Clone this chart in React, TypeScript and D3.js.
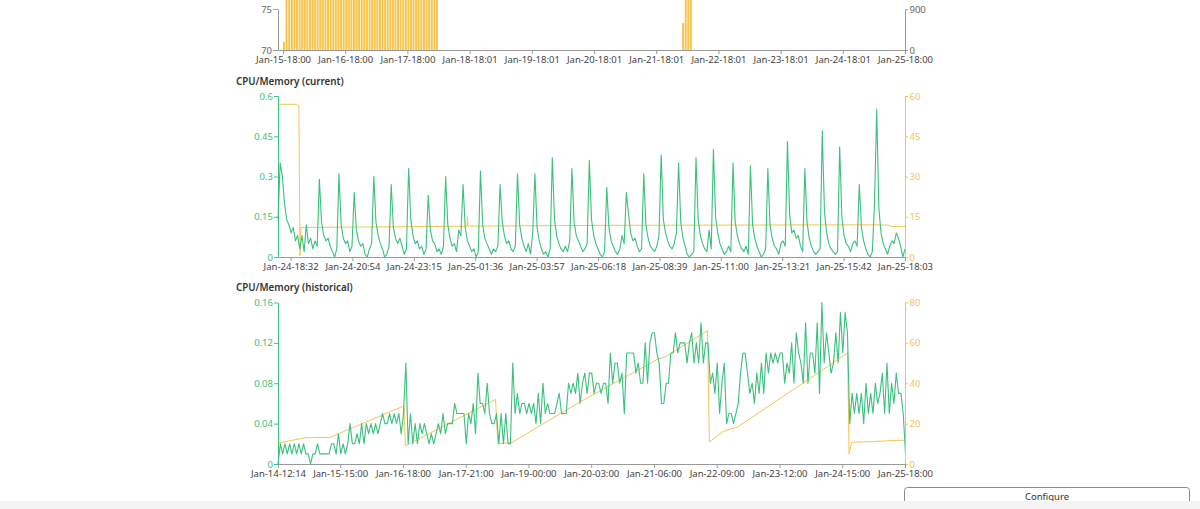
import React, { useEffect, useRef } from "react";
import * as d3 from "d3";

const FONT = "'Segoe UI', 'Noto Sans', sans-serif";
const GREEN = "#3ac17e";
const YELLOW = "#f5c451";
const BAR = "#f6c54e";
const GRAY = "#9a9a9a";
const TICK_FS = 9.5;

const parseT = d3.timeParse("%Y-%b-%d-%H:%M");
const T = (s: string) => parseT("2025-" + s) as Date;

// ---------- top chart (cut off) ----------
const topDomain = ["Jan-15-16:04", "Jan-25-18:00"];
const topTickLabels = [
  "Jan-15-18:00", "Jan-16-18:00", "Jan-17-18:00", "Jan-18-18:01", "Jan-19-18:01", "Jan-20-18:01",
  "Jan-21-18:01", "Jan-22-18:01", "Jan-23-18:01", "Jan-24-18:01", "Jan-25-18:00",
];
const topLeftTicks = [70, 75];
const topRightTicks = [0, 900];
const barGroup1Start = "Jan-15-18:00";
const barGroup1Values = [
  71, 100, 100, 100, 100, 100, 100, 100, 100, 100,
  100, 100, 100, 100, 100, 100, 100, 100, 100, 100,
  100, 100, 100, 100, 100, 100, 100, 100, 100, 100,
  100, 100, 100, 100, 100, 100, 100, 100, 100, 100,
  100, 100, 100, 100, 100, 100, 100, 100, 100, 100,
  100, 100, 100, 100, 100, 100, 100, 100, 100, 100,
];
const barGroup2Start = "Jan-22-04:00";
const barGroup2Values = [73.3, 100, 100, 100];

// ---------- CPU/Memory (current) ----------
const curDomain = ["Jan-24-18:03", "Jan-25-18:03"];
const curTickLabels = [
  "Jan-24-18:32", "Jan-24-20:54", "Jan-24-23:15", "Jan-25-01:36", "Jan-25-03:57", "Jan-25-06:18",
  "Jan-25-08:39", "Jan-25-11:00", "Jan-25-13:21", "Jan-25-15:42", "Jan-25-18:03",
];
const curLeftTicks = [0, 0.15, 0.3, 0.45, 0.6];
const curRightTicks = [0, 15, 30, 45, 60];
const curStepMinutes = 5;
const curCpu = [
  0.14, 0.35, 0.30, 0.20, 0.14, 0.12, 0.09, 0.11, 0.06, 0.08,
  0.03, 0.08, 0.02, 0.12, 0.05, 0.07, 0.03, 0.06, 0.04, 0.29,
  0.13, 0.08, 0.06, 0.07, 0.04, 0.02, 0.00, 0.03, 0.31, 0.12,
  0.07, 0.05, 0.06, 0.02, 0.04, 0.24, 0.10, 0.06, 0.04, 0.05,
  0.01, 0.00, 0.03, 0.05, 0.30, 0.13, 0.08, 0.05, 0.03, 0.00,
  0.01, 0.04, 0.27, 0.11, 0.07, 0.05, 0.07, 0.04, 0.01, 0.03,
  0.33, 0.14, 0.08, 0.05, 0.06, 0.03, 0.04, 0.01, 0.03, 0.23,
  0.10, 0.06, 0.05, 0.02, 0.03, 0.01, 0.04, 0.30, 0.12, 0.07,
  0.04, 0.05, 0.02, 0.10, 0.08, 0.27, 0.11, 0.06, 0.04, 0.02,
  0.03, 0.00, 0.02, 0.32, 0.12, 0.07, 0.05, 0.03, 0.01, 0.03,
  0.02, 0.04, 0.27, 0.13, 0.08, 0.05, 0.06, 0.03, 0.02, 0.04,
  0.31, 0.12, 0.07, 0.04, 0.02, 0.05, 0.01, 0.09, 0.31, 0.11,
  0.06, 0.03, 0.01, 0.02, 0.00, 0.03, 0.37, 0.14, 0.08, 0.05,
  0.03, 0.02, 0.04, 0.02, 0.06, 0.33, 0.13, 0.08, 0.06, 0.04,
  0.02, 0.03, 0.05, 0.36, 0.14, 0.08, 0.05, 0.03, 0.01, 0.00,
  0.02, 0.26, 0.11, 0.06, 0.04, 0.02, 0.01, 0.03, 0.08, 0.05,
  0.24, 0.16, 0.09, 0.06, 0.07, 0.04, 0.02, 0.03, 0.31, 0.12,
  0.07, 0.04, 0.03, 0.02, 0.04, 0.08, 0.38, 0.14, 0.09, 0.06,
  0.04, 0.03, 0.05, 0.09, 0.35, 0.13, 0.07, 0.04, 0.01, 0.00,
  0.01, 0.02, 0.37, 0.14, 0.08, 0.05, 0.03, 0.02, 0.10, 0.03,
  0.40, 0.15, 0.09, 0.05, 0.03, 0.01, 0.02, 0.04, 0.02, 0.35,
  0.13, 0.08, 0.05, 0.03, 0.02, 0.04, 0.01, 0.34, 0.12, 0.07,
  0.04, 0.02, 0.00, 0.01, 0.03, 0.33, 0.12, 0.07, 0.04, 0.03,
  0.01, 0.05, 0.06, 0.04, 0.43, 0.16, 0.09, 0.10, 0.07, 0.08,
  0.04, 0.02, 0.33, 0.13, 0.07, 0.04, 0.02, 0.01, 0.02, 0.03,
  0.47, 0.17, 0.09, 0.05, 0.03, 0.02, 0.01, 0.02, 0.41, 0.15,
  0.08, 0.05, 0.04, 0.02, 0.05, 0.06, 0.04, 0.27, 0.11, 0.06,
  0.03, 0.01, 0.00, 0.02, 0.20, 0.55, 0.18, 0.09, 0.05, 0.03,
  0.01, 0.04, 0.06, 0.05, 0.09, 0.07, 0.04, 0.00, 0.03,
];
// memory vertices, position in samples (5 min)
const curMemIdx = [0, 8.5, 9.6, 10.1, 10.5, 60, 86.8, 87, 87.2, 150, 270, 280, 282, 288];
const curMemVals = [56.9, 56.9, 56.3, 0.5, 11.0, 11.3, 11.5, 15.0, 11.5, 11.8, 12.0, 11.9, 11.4, 11.4];

// ---------- CPU/Memory (historical) ----------
const histDomain = ["Jan-14-12:14", "Jan-25-18:00"];
const histTickLabels = [
  "Jan-14-12:14", "Jan-15-15:00", "Jan-16-18:00", "Jan-17-21:00", "Jan-19-00:00", "Jan-20-03:00",
  "Jan-21-06:00", "Jan-22-09:00", "Jan-23-12:00", "Jan-24-15:00", "Jan-25-18:00",
];
const histLeftTicks = [0, 0.04, 0.08, 0.12, 0.16];
const histRightTicks = [0, 20, 40, 60, 80];
const histStepHours = 1;
const histCpu = [
  0.00, 0.02, 0.01, 0.02, 0.01, 0.02, 0.01, 0.02, 0.01, 0.02,
  0.01, 0.02, 0.01, 0.01, 0.00, 0.01, 0.01, 0.02, 0.01, 0.01,
  0.01, 0.01, 0.01, 0.02, 0.02, 0.01, 0.03, 0.01, 0.02, 0.01,
  0.02, 0.04, 0.02, 0.02, 0.03, 0.02, 0.04, 0.02, 0.04, 0.03,
  0.04, 0.03, 0.04, 0.03, 0.04, 0.05, 0.04, 0.04, 0.05, 0.04,
  0.05, 0.04, 0.05, 0.03, 0.05, 0.10, 0.02, 0.05, 0.02, 0.04,
  0.02, 0.04, 0.03, 0.04, 0.03, 0.02, 0.03, 0.02, 0.03, 0.04,
  0.03, 0.05, 0.03, 0.04, 0.04, 0.04, 0.06, 0.05, 0.05, 0.05,
  0.05, 0.02, 0.05, 0.04, 0.06, 0.03, 0.09, 0.06, 0.06, 0.05,
  0.08, 0.05, 0.04, 0.04, 0.05, 0.02, 0.05, 0.02, 0.05, 0.02,
  0.02, 0.10, 0.05, 0.07, 0.05, 0.06, 0.06, 0.05, 0.06, 0.05,
  0.06, 0.04, 0.07, 0.04, 0.08, 0.05, 0.06, 0.05, 0.05, 0.05,
  0.06, 0.07, 0.05, 0.05, 0.05, 0.08, 0.07, 0.08, 0.07, 0.09,
  0.06, 0.08, 0.09, 0.07, 0.09, 0.09, 0.07, 0.08, 0.08, 0.07,
  0.08, 0.08, 0.06, 0.11, 0.08, 0.10, 0.10, 0.08, 0.09, 0.05,
  0.11, 0.11, 0.11, 0.11, 0.09, 0.10, 0.08, 0.08, 0.12, 0.08,
  0.12, 0.13, 0.13, 0.11, 0.10, 0.06, 0.06, 0.08, 0.08, 0.11,
  0.11, 0.13, 0.11, 0.12, 0.12, 0.12, 0.10, 0.12, 0.13, 0.10,
  0.12, 0.10, 0.14, 0.10, 0.12, 0.12, 0.08, 0.09, 0.07, 0.10,
  0.05, 0.08, 0.10, 0.04, 0.05, 0.05, 0.04, 0.05, 0.06, 0.09,
  0.11, 0.11, 0.09, 0.07, 0.08, 0.06, 0.09, 0.07, 0.10, 0.07,
  0.11, 0.09, 0.11, 0.10, 0.11, 0.10, 0.11, 0.11, 0.08, 0.10,
  0.09, 0.12, 0.08, 0.13, 0.11, 0.10, 0.08, 0.14, 0.08, 0.11,
  0.11, 0.09, 0.14, 0.07, 0.16, 0.10, 0.13, 0.11, 0.09, 0.10,
  0.13, 0.10, 0.15, 0.11, 0.15, 0.13, 0.04, 0.07, 0.05, 0.07,
  0.05, 0.07, 0.04, 0.08, 0.05, 0.07, 0.05, 0.08, 0.06, 0.07,
  0.09, 0.05, 0.10, 0.05, 0.08, 0.06, 0.09, 0.07, 0.07, 0.05,
  0.01,
];
// memory vertices, position in hours
const histMemHours = [0, 11.6, 22.4, 54.2, 54.8, 93.6, 94.6, 100.7, 130.2, 163.5, 166.5, 184.8, 185.6, 191.9, 197.7, 245.1, 245.7, 246.8, 268.8, 270];
const histMemVals = [10.3, 13.0, 13.2, 28.8, 9.0, 32.0, 10.0, 10.7, 30.9, 52.0, 53.0, 66.0, 11.0, 16.3, 18.3, 55.0, 5.1, 10.7, 11.8, 11.0];

const titles = ["CPU/Memory (current)", "CPU/Memory (historical)"];
const buttonLabel = "Configure";

type AxisProps = {
  axis: any;
  transform: string;
  color: string;
  textColor: string;
};

function Axis({ axis, transform, color, textColor }: AxisProps) {
  const ref = useRef<SVGGElement>(null);
  useEffect(() => {
    if (!ref.current) return;
    const g = d3.select(ref.current);
    g.selectAll("*").remove();
    g.call(axis);
    g.attr("font-size", null).attr("font-family", null);
    g.select(".domain").attr("stroke", color);
    g.selectAll(".tick line").attr("stroke", color);
    g.selectAll(".tick text")
      .attr("fill", textColor)
      .attr("font-size", TICK_FS)
      .attr("font-family", FONT);
  });
  return <g ref={ref} transform={transform} />;
}

export default function App() {
  const X0 = 278;
  const X1 = 905;

  // top chart scales
  const topX = d3.scaleTime().domain(topDomain.map(T)).range([X0, X1]);
  const topYL = d3.scaleLinear().domain([70, 75]).range([50, 9]);
  const topYR = d3.scaleLinear().domain([0, 900]).range([50, 9.3]);
  const bars = [
    ...barGroup1Values.map((v, i) => ({ t: d3.timeHour.offset(T(barGroup1Start), i), v })),
    ...barGroup2Values.map((v, i) => ({ t: d3.timeHour.offset(T(barGroup2Start), i), v })),
  ];

  // current
  const curX = d3.scaleTime().domain(curDomain.map(T)).range([X0, X1]);
  const curYL = d3.scaleLinear().domain([0, 0.6]).range([257, 96]);
  const curYR = d3.scaleLinear().domain([0, 60]).range([257, 96]);
  const curStart = T(curDomain[0]).getTime();
  const curTime = (idx: number) => new Date(curStart + idx * curStepMinutes * 60000);
  const curCpuPath = d3
    .line<number>()
    .x((_, i) => curX(curTime(i)))
    .y((d) => curYL(d))(curCpu);
  const curMemPath = d3
    .line<number>()
    .x((d) => curX(curTime(d)))
    .y((_, i) => curYR(curMemVals[i]))(curMemIdx);

  // historical
  const histX = d3.scaleTime().domain(histDomain.map(T)).range([X0, X1]);
  const histYL = d3.scaleLinear().domain([0, 0.16]).range([464, 302.5]);
  const histYR = d3.scaleLinear().domain([0, 80]).range([464, 302.5]);
  const histStart = T(histDomain[0]).getTime();
  const histTime = (h: number) => new Date(histStart + h * histStepHours * 3600000);
  const histCpuPath = d3
    .line<number>()
    .x((_, i) => histX(histTime(i)))
    .y((d) => histYL(d))(histCpu);
  const histMemPath = d3
    .line<number>()
    .x((d) => histX(histTime(d)))
    .y((_, i) => histYR(histMemVals[i]))(histMemHours);

  const bottomAxis = (x: any, labels: string[]) =>
    d3
      .axisBottom(x)
      .tickValues(labels.map(T))
      .tickFormat((_: any, i: number) => labels[i])
      .tickSize(4)
      .tickSizeOuter(0)
      .tickPadding(2);

  const leftAxis = (y: any, ticks: number[], size = 4) =>
    d3.axisLeft(y).tickValues(ticks).tickFormat((d: any) => String(d)).tickSize(size).tickSizeOuter(0).tickPadding(1);
  const rightAxis = (y: any, ticks: number[]) =>
    d3.axisRight(y).tickValues(ticks).tickFormat((d: any) => String(d)).tickSize(3).tickSizeOuter(0).tickPadding(1.5);

  return (
    <svg
      width={1200}
      height={509}
      style={{ position: "absolute", left: 0, top: 0, background: "#fff", display: "block" }}
    >
      <rect x={0} y={0} width={1200} height={509} fill="#fff" />

      {/* top chart bars */}
      <g>
        {bars.map((b, i) => {
          const x = topX(b.t);
          const w = topX(d3.timeHour.offset(b.t, 1)) - x;
          const y = Math.max(0, topYL(b.v));
          return (
            <rect
              key={i}
              x={x}
              y={y}
              width={Math.max(0.5, w - 0.6)}
              height={topYL(70) - y}
              fill={BAR}
            />
          );
        })}
      </g>
      <Axis axis={leftAxis(topYL, topLeftTicks, 5)} transform={`translate(${X0},0)`} color={GRAY} textColor="#666" />
      <Axis axis={rightAxis(topYR, topRightTicks)} transform={`translate(${X1},0)`} color={GRAY} textColor="#666" />
      <Axis axis={bottomAxis(topX, topTickLabels)} transform={`translate(0,50)`} color={GRAY} textColor="#444" />

      {/* current */}
      <text x={236} y={84.5} fontFamily={FONT} fontSize={9.8} fontWeight={600} fill="#333">
        {titles[0]}
      </text>
      <path d={curMemPath || ""} fill="none" stroke={YELLOW} strokeWidth={1} />
      <path d={curCpuPath || ""} fill="none" stroke={GREEN} strokeWidth={1.1} strokeLinejoin="round" />
      <Axis axis={leftAxis(curYL, curLeftTicks)} transform={`translate(${X0},0)`} color={GREEN} textColor={GREEN} />
      <Axis axis={rightAxis(curYR, curRightTicks)} transform={`translate(${X1},0)`} color={YELLOW} textColor={YELLOW} />
      <Axis axis={bottomAxis(curX, curTickLabels)} transform={`translate(0,257)`} color={GRAY} textColor="#444" />

      {/* historical */}
      <text x={236} y={291} fontFamily={FONT} fontSize={9.8} fontWeight={600} fill="#333">
        {titles[1]}
      </text>
      <path d={histMemPath || ""} fill="none" stroke={YELLOW} strokeWidth={1} />
      <path d={histCpuPath || ""} fill="none" stroke={GREEN} strokeWidth={1.1} strokeLinejoin="round" />
      <Axis axis={leftAxis(histYL, histLeftTicks)} transform={`translate(${X0},0)`} color={GREEN} textColor={GREEN} />
      <Axis axis={rightAxis(histYR, histRightTicks)} transform={`translate(${X1},0)`} color={YELLOW} textColor={YELLOW} />
      <Axis axis={bottomAxis(histX, histTickLabels)} transform={`translate(0,464)`} color={GRAY} textColor="#444" />

      {/* configure button + bottom band */}
      <rect x={904.5} y={487.5} width={285} height={30} rx={3} fill="#fff" stroke="#8a8a8a" />
      <text x={1047} y={500} textAnchor="middle" fontFamily={FONT} fontSize={TICK_FS} fill="#333">
        {buttonLabel}
      </text>
      <rect x={0} y={501} width={1200} height={8} fill="#f3f3f3" />
    </svg>
  );
}
